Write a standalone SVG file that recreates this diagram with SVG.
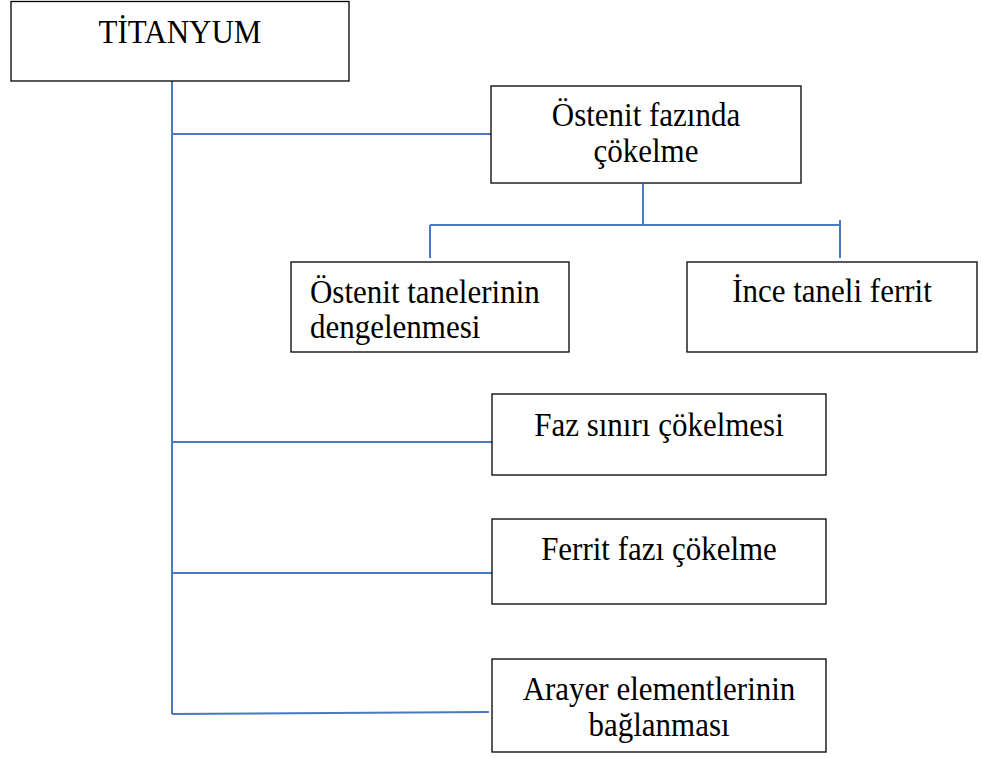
<svg xmlns="http://www.w3.org/2000/svg" width="982" height="758" viewBox="0 0 982 758">
<style>
.box{fill:#fff;stroke:#000;stroke-width:1.3}
.t{font-family:"Liberation Serif","Times New Roman",serif;font-size:31px;fill:#000}
.c{text-anchor:middle}
.ln{stroke:#4a78c2;stroke-width:2;fill:none}
</style>
<rect width="982" height="758" fill="#fff"/>
<g id="connectors">
<path class="ln" d="M172 81 V714"/>
<path class="ln" d="M172 134 H491"/>
<path class="ln" d="M172 442 H492"/>
<path class="ln" d="M172 573 H492"/>
<path class="ln" d="M172 714 L489 712"/>
<path class="ln" d="M643 184 V225"/>
<path class="ln" d="M430 225 H840"/>
<path class="ln" d="M430 225 V258"/>
<path class="ln" d="M840 220 V258"/>
</g>
<g id="titanyum">
<rect class="box" x="11" y="1.5" width="338" height="79.5"/>
<text class="t c" x="180" y="43" transform="matrix(1 0 0 1.08 0 -3.44)">TİTANYUM</text>
</g>
<g id="ostenit-fazinda">
<rect class="box" x="491" y="86" width="310" height="97"/>
<text class="t c" x="646" y="126" transform="matrix(1 0 0 1.08 0 -10.08)">Östenit fazında</text>
<text class="t c" x="646" y="162" transform="matrix(1 0 0 1.08 0 -12.96)">çökelme</text>
</g>
<g id="ostenit-taneleri">
<rect class="box" x="291" y="262" width="278" height="90"/>
<text class="t" x="310" y="303" transform="matrix(1 0 0 1.08 0 -24.24)">Östenit tanelerinin</text>
<text class="t" x="310" y="338" transform="matrix(1 0 0 1.08 0 -27.04)">dengelenmesi</text>
</g>
<g id="ince-taneli">
<rect class="box" x="687" y="262" width="290" height="90"/>
<text class="t c" x="832" y="302" transform="matrix(1 0 0 1.08 0 -24.16)">İnce taneli ferrit</text>
</g>
<g id="faz-siniri">
<rect class="box" x="492" y="394" width="334" height="81"/>
<text class="t c" x="659" y="436" transform="matrix(1 0 0 1.08 0 -34.88)">Faz sınırı çökelmesi</text>
</g>
<g id="ferrit-fazi">
<rect class="box" x="492" y="519" width="334" height="85"/>
<text class="t c" x="659" y="560" transform="matrix(1 0 0 1.08 0 -44.8)">Ferrit fazı çökelme</text>
</g>
<g id="arayer">
<rect class="box" x="492" y="659" width="334" height="93"/>
<text class="t c" x="659" y="700" transform="matrix(1 0 0 1.08 0 -56)">Arayer elementlerinin</text>
<text class="t c" x="659" y="736" transform="matrix(1 0 0 1.08 0 -58.88)">bağlanması</text>
</g>
</svg>
